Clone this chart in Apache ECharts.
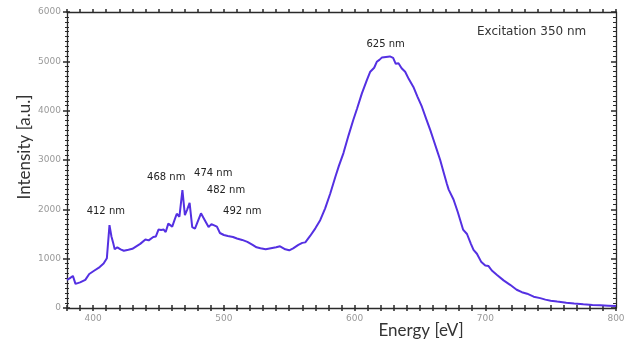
<!DOCTYPE html>
<html>
<head>
<meta charset="utf-8">
<script src="https://cdn.jsdelivr.net/npm/echarts@6/dist/echarts.min.js"></script>
<style>
  html, body { margin: 0; padding: 0; background: #fff; }
  #chart { width: 632px; height: 339px; }
</style>
</head>
<body>
<div id="chart"></div>
<script>
// emission spectrum
const wavelength = [380, 382, 384.5, 386.5, 390, 394, 397, 401, 405, 408, 410.5, 412.5, 414, 415.5, 416.5, 418.5, 421, 423.5, 427, 430,
  433, 436, 440, 442.5, 446, 448, 450, 452, 454, 455.5, 457.5, 459, 460.5, 462.5, 464, 466, 468.3, 470.2, 472, 473.8,
  475.8, 477.9, 480, 482.5, 485, 488.3, 490.5, 492, 494.7, 497, 500, 503, 507, 510, 514, 518, 522, 525, 528, 532,
  536, 540, 543, 547, 550, 553, 557, 560, 562.3, 566, 570, 573.7, 577.5, 581.4, 585.2, 588, 591.5, 595.4, 599, 602,
  605.6, 609.4, 612, 615, 617, 619, 621, 624, 627, 629.5, 631.5, 633.6, 636, 638.7, 641.5, 645, 648, 651.5, 655, 658,
  660.5, 663, 665.5, 668, 670.6, 672, 675.7, 679, 683, 686, 689, 691, 693.6, 697, 700, 702.5, 705, 709, 714, 719,
  724, 728, 732, 737, 742, 746, 750, 755, 762, 768, 775, 782, 788, 794, 800];
const intensity = [570, 600, 650, 490, 520, 570, 690, 760, 830, 900, 1010, 1680, 1450, 1300, 1190, 1230, 1190, 1160, 1180, 1200,
  1250, 1300, 1390, 1370, 1440, 1450, 1590, 1580, 1590, 1540, 1710, 1690, 1650, 1800, 1910, 1850, 2390, 1880, 2000, 2130,
  1640, 1610, 1750, 1920, 1800, 1640, 1700, 1730, 1650, 1520, 1480, 1460, 1440, 1410, 1380, 1340, 1280, 1230, 1210, 1190,
  1210, 1230, 1250, 1190, 1170, 1210, 1280, 1320, 1330, 1460, 1615, 1780, 2020, 2320, 2650, 2880, 3140, 3500, 3810, 4050,
  4350, 4620, 4790, 4870, 4990, 5030, 5080, 5090, 5100, 5070, 4950, 4960, 4860, 4790, 4640, 4480, 4290, 4080, 3820, 3600,
  3400, 3200, 3000, 2760, 2520, 2400, 2200, 1940, 1590, 1500, 1300, 1180, 1100, 930, 860, 850, 760, 670, 560, 470,
  370, 320, 290, 230, 200, 170, 148, 130, 107, 90, 75, 62, 55, 48, 40];

const xMajor = [400, 500, 600, 700, 800];

const annotTexts = ['412 nm', '468 nm', '474 nm', '482 nm', '492 nm', '625 nm'];
const annotX = [409.7, 455.9, 491.9, 501.6, 514.1, 623.8];
const annotY = [1966, 2655, 2736, 2378, 1966, 5351];

const font = "'DejaVu Sans', sans-serif";
const axisColor = '#2a2a2a';
const tickStyle = { color: axisColor, width: 1.5 };

const chart = echarts.init(document.getElementById('chart'));

// plot box: left 67, right 616, top 12, bottom 308
const plotW = 632 - 67 - 16;
const plotH = 339 - 12 - 31;

const xBase = { type: 'value', min: 380, max: 800, interval: 10, splitLine: { show: false } };
const yBase = { type: 'value', min: 0, max: 6000, interval: 1000, splitLine: { show: false } };

chart.setOption({
  animation: false,
  grid: { left: 67, right: 16, top: 12, bottom: 31 },
  xAxis: [
    {
      ...xBase, position: 'bottom',
      axisLine: { show: true, onZero: false, lineStyle: { color: axisColor, width: 1.3 } },
      axisTick: { show: true, inside: false, length: 3, lineStyle: tickStyle },
      axisLabel: {
        interval: 0, margin: 6, fontSize: 9, color: '#999', fontFamily: font,
        formatter: v => (xMajor.includes(v) ? String(v) : '')
      }
    },
    {
      // bottom ticks pointing up, longer at the labelled values
      ...xBase, position: 'bottom',
      axisLine: { show: false, onZero: false },
      axisTick: { show: true, inside: true, length: 3, lineStyle: tickStyle },
      axisLabel: { show: false }
    },
    {
      // top frame: a bottom axis shifted up to the top edge
      ...xBase, position: 'bottom', offset: -plotH,
      axisLine: { show: true, onZero: false, lineStyle: { color: axisColor, width: 1.3 } },
      axisTick: { show: true, inside: true, length: 3, lineStyle: tickStyle },
      axisLabel: { show: false }
    }
  ],
  yAxis: [
    {
      ...yBase, position: 'left',
      axisLine: { show: true, onZero: false, lineStyle: { color: axisColor, width: 1.3 } },
      axisTick: { show: true, inside: false, length: 4, lineStyle: tickStyle },
      minorTick: { show: true, splitNumber: 10, length: 2, lineStyle: { color: axisColor } },
      axisLabel: { margin: 6, fontSize: 9, color: '#999', fontFamily: font, formatter: v => String(v) }
    },
    {
      // left ticks pointing into the plot: a right axis shifted to the left edge
      ...yBase, position: 'right', offset: -plotW,
      axisLine: { show: false, onZero: false },
      axisTick: { show: true, inside: false, length: 3, lineStyle: tickStyle },
      minorTick: { show: true, splitNumber: 10, length: 2, lineStyle: { color: axisColor } },
      axisLabel: { show: false }
    },
    {
      ...yBase, position: 'right',
      axisLine: { show: true, onZero: false, lineStyle: { color: axisColor, width: 1.3 } },
      axisTick: { show: true, inside: true, length: 5, lineStyle: tickStyle },
      minorTick: { show: true, splitNumber: 10, length: 3, lineStyle: { color: axisColor } },
      axisLabel: { show: false }
    }
  ],
  series: [
    {
      type: 'line',
      xAxisIndex: 0,
      yAxisIndex: 0,
      data: wavelength.map((w, i) => [w, intensity[i]]),
      showSymbol: false,
      lineStyle: { color: '#5430e2', width: 2 },
      markPoint: {
        symbol: 'circle',
        symbolSize: 0,
        silent: true,
        label: { show: true, position: 'inside', color: '#222', fontSize: 10, fontFamily: font, formatter: p => p.name },
        data: annotTexts.map((t, i) => ({ name: t, coord: [annotX[i], annotY[i]] }))
      }
    }
  ],
  graphic: [
    {
      type: 'text', left: 477, top: 26,
      style: { text: 'Excitation 350 nm', fontSize: 12, fontFamily: font, fill: '#333' }
    },
    {
      type: 'text', x: 25, y: 147, rotation: Math.PI / 2,
      style: { text: 'Intensity [a.u.]', fontSize: 17, fontFamily: 'Lato, sans-serif', fill: '#333', align: 'center', verticalAlign: 'middle' }
    },
    {
      type: 'text', x: 421, y: 331,
      style: { text: 'Energy [eV]', fontSize: 17, fontFamily: 'Lato, sans-serif', fill: '#333', align: 'center', verticalAlign: 'middle' }
    }
  ]
});
</script>
</body>
</html>
